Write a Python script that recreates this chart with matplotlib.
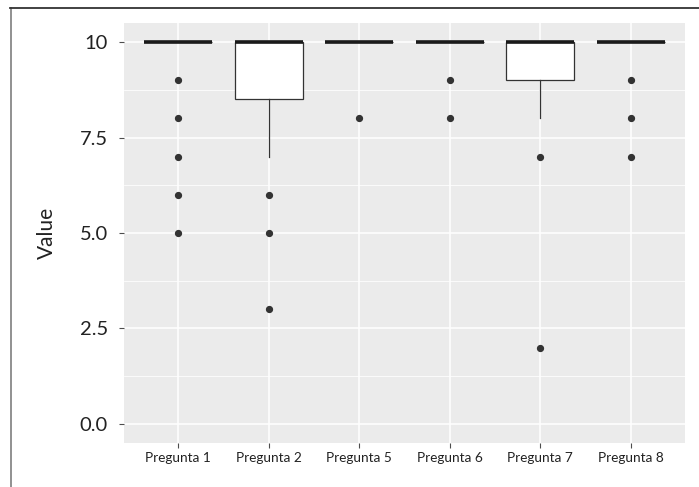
import matplotlib
matplotlib.use("Agg")
from matplotlib import pyplot as plt
from matplotlib.lines import Line2D

plt.rcParams['font.family'] = ['Lato', 'DejaVu Sans']

# Box statistics
questions = ['Pregunta 1', 'Pregunta 2', 'Pregunta 5', 'Pregunta 6', 'Pregunta 7', 'Pregunta 8']
q1 = [10, 8.5, 10, 10, 9, 10]
medians = [10, 10, 10, 10, 10, 10]
q3 = [10, 10, 10, 10, 10, 10]
whisk_lo = [10, 7, 10, 10, 8, 10]
whisk_hi = [10, 10, 10, 10, 10, 10]
outliers = [[9, 8, 7, 6, 5], [6, 5, 3], [8], [9, 8], [7, 2], [9, 8, 7]]

stats = []
for i in range(len(questions)):
    stats.append({'label': questions[i], 'q1': q1[i], 'med': medians[i], 'q3': q3[i],
                  'whislo': whisk_lo[i], 'whishi': whisk_hi[i], 'fliers': outliers[i]})

fig = plt.figure(figsize=(6.99, 4.87), dpi=100)
ax = fig.add_axes([124 / 699, 1 - 443 / 487, 561 / 699, 420 / 487])
ax.set_facecolor('#EBEBEB')

ax.bxp(stats, positions=range(1, 7), widths=0.75, patch_artist=True, showcaps=False,
       boxprops=dict(facecolor='white', edgecolor='#333333', linewidth=0.9),
       medianprops=dict(color='#1a1a1a', linewidth=2.6, solid_capstyle='butt'),
       whiskerprops=dict(color='#333333', linewidth=0.9),
       flierprops=dict(marker='o', markersize=4.2, markerfacecolor='#333333',
                       markeredgecolor='#333333'),
       zorder=3)

ax.set_xlim(0.4, 6.6)
ax.set_ylim(-0.5, 10.5)
ax.set_yticks([0, 2.5, 5, 7.5, 10])
ax.set_yticklabels(['0.0', '2.5', '5.0', '7.5', '10'])
ax.set_yticks([1.25, 3.75, 6.25, 8.75], minor=True)
ax.set_xticks(range(1, 7))
ax.set_xticklabels(questions)

ax.grid(True, which='major', color='white', linewidth=1.1, zorder=0)
ax.grid(True, which='minor', axis='y', color='white', linewidth=0.55, zorder=0)
ax.set_axisbelow(True)
for s in ax.spines.values():
    s.set_visible(False)

ax.tick_params(axis='y', which='major', labelsize=14.5, colors='#4d4d4d', length=3.5, width=0.8,
               pad=8, labelcolor='#222222')
ax.tick_params(axis='y', which='minor', length=0)
ax.tick_params(axis='x', labelsize=9.8, colors='#4d4d4d', length=3.5, width=0.8,
               pad=3, labelcolor='#222222')
ax.set_ylabel('Value', fontsize=15, color='#222222')
ax.yaxis.set_label_coords((57 - 124) / 561, 0.5)

# frame lines around the figure
fig.add_artist(Line2D([10.5 / 699, 10.5 / 699], [0, 1 - 8 / 487], color='#888888', linewidth=1.3))
fig.add_artist(Line2D([10 / 699, 1], [1 - 8 / 487, 1 - 8 / 487], color='#333333', linewidth=1.3))

fig.savefig('out.png', dpi=100)
